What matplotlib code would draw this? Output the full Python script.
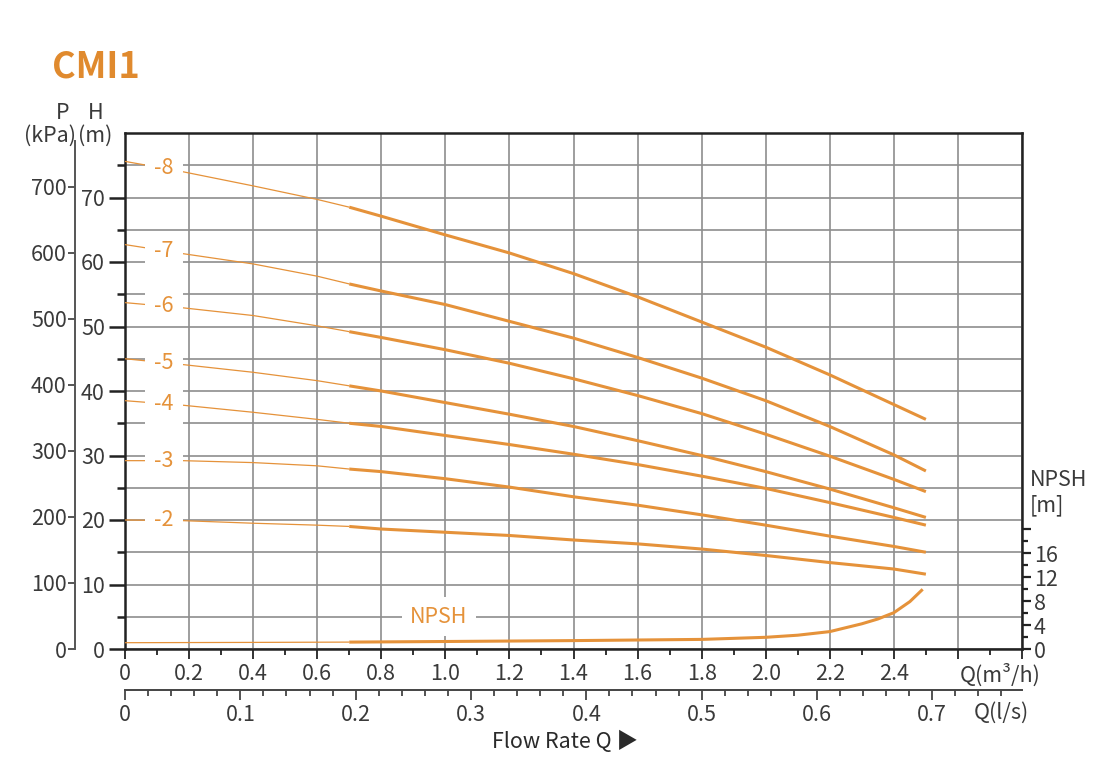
import numpy as np
import matplotlib.pyplot as plt
from matplotlib.ticker import MultipleLocator, FixedLocator, FuncFormatter

plt.rcParams['font.family'] = ['Noto Sans CJK SC', 'DejaVu Sans']

# flow rate (m3/h) where the head curves were read
q = [0, 0.18, 0.4, 0.6, 0.7, 0.8, 1.0, 1.2, 1.4, 1.6, 1.8, 2.0, 2.2, 2.4, 2.5]

# head H (m) for each stage count
h_2 = [20.0, 19.9, 19.5, 19.2, 19.0, 18.6, 18.1, 17.6, 16.9, 16.3, 15.5, 14.5, 13.4, 12.4, 11.6]
h_3 = [29.2, 29.2, 28.9, 28.4, 27.9, 27.5, 26.4, 25.1, 23.6, 22.3, 20.8, 19.2, 17.5, 15.9, 15.0]
h_4 = [38.5, 37.8, 36.7, 35.6, 35.0, 34.5, 33.1, 31.7, 30.2, 28.6, 26.8, 24.9, 22.7, 20.4, 19.2]
h_5 = [45.0, 44.1, 42.9, 41.6, 40.8, 40.0, 38.2, 36.4, 34.5, 32.3, 30.0, 27.5, 24.8, 21.9, 20.4]
h_6 = [53.7, 52.9, 51.7, 50.1, 49.2, 48.3, 46.4, 44.3, 41.9, 39.3, 36.5, 33.3, 29.9, 26.3, 24.4]
h_7 = [62.7, 61.3, 59.7, 57.8, 56.6, 55.5, 53.4, 50.8, 48.2, 45.2, 42.0, 38.5, 34.5, 30.1, 27.6]
h_8 = [75.6, 74.0, 71.8, 69.7, 68.5, 67.1, 64.2, 61.4, 58.2, 54.6, 50.7, 46.8, 42.5, 37.9, 35.6]
stage_labels = ['-2', '-3', '-4', '-5', '-6', '-7', '-8']

# NPSH curve
q_npsh = [0, 0.4, 0.7, 1.0, 1.4, 1.8, 2.0, 2.1, 2.2, 2.3, 2.35, 2.4, 2.45, 2.49]
npsh = [1.05, 1.1, 1.15, 1.25, 1.4, 1.6, 1.95, 2.3, 2.9, 4.2, 5.0, 6.05, 7.9, 9.95]

orange = '#E5923A'
title_col = '#E08A2E'
text_col = '#3a3a3a'
grid_col = '#8e8e8e'
q_split = 0.7
fs = 15.5

W, H = 1100, 767
fig = plt.figure(figsize=(W / 100, H / 100), dpi=100)
ax = fig.add_axes([125 / W, 1 - 649 / H, (1022 - 125) / W, (649 - 133) / H])


def fx(px):
    return px / W


def fy(py):
    return 1 - py / H


ax.set_xlim(0, 2.8)
ax.set_ylim(0, 80)
ax.set_axisbelow(True)

ax.xaxis.set_major_locator(MultipleLocator(0.2))
ax.xaxis.set_minor_locator(MultipleLocator(0.1))
ax.xaxis.set_major_formatter(FuncFormatter(
    lambda v, p: '' if v > 2.45 else ('0' if abs(v) < 1e-9 else f'{v:.1f}')))
ax.yaxis.set_major_locator(FixedLocator(np.arange(0, 71, 10)))
ax.yaxis.set_minor_locator(FixedLocator(np.arange(5, 80, 10)))
ax.yaxis.set_major_formatter(FuncFormatter(lambda v, p: f'{v:.0f}'))

ax.grid(which='major', axis='x', color=grid_col, lw=1.2)
ax.grid(which='both', axis='y', color=grid_col, lw=1.2)

for s in ax.spines.values():
    s.set_color('#222222')
    s.set_linewidth(1.8)

ax.tick_params(axis='y', which='major', length=11.5, width=1.8, color='#222222',
               labelsize=fs, labelcolor=text_col, pad=3)
ax.tick_params(axis='y', which='minor', length=6, width=1.8, color='#222222')
ax.tick_params(axis='x', which='major', length=7, width=1.3, color='#222222',
               labelsize=fs, labelcolor=text_col, pad=3)
ax.tick_params(axis='x', which='minor', length=4.5, width=1.3, color='#222222')

# head curves: thin below q_split, thick above
q_arr = np.array(q)
heads = [h_2, h_3, h_4, h_5, h_6, h_7, h_8]
for h, lab in zip(heads, stage_labels):
    h = np.array(h)
    lo = q_arr <= q_split
    hi = q_arr >= q_split
    ax.plot(q_arr[lo], h[lo], color=orange, lw=0.9, zorder=3, solid_capstyle='butt')
    ax.plot(q_arr[hi], h[hi], color=orange, lw=2.2, zorder=3, solid_capstyle='butt')
    y_lab = np.interp(0.122, q_arr, h)
    ax.text(0.122, y_lab, lab, color=orange, fontsize=fs, ha='center', va='center',
            zorder=5, bbox=dict(boxstyle='square,pad=0.42', fc='white', ec='none'))

ax.text(0.98, 5, 'NPSH', color=orange, fontsize=fs, ha='center', va='center',
        zorder=5, bbox=dict(boxstyle='square,pad=0.4', fc='white', ec='none'))

# P (kPa) axis on the far left
ax_p = ax.twinx()
ax_p.set_ylim(0, 80 * 9.77)
for k in ['right', 'top', 'bottom']:
    ax_p.spines[k].set_visible(False)
ax_p.spines['left'].set_visible(True)
ax_p.spines['left'].set_position(('outward', 36))
ax_p.spines['left'].set_color('#555555')
ax_p.spines['left'].set_linewidth(1.4)
ax_p.spines['left'].set_bounds(0, 770)
ax_p.yaxis.set_ticks_position('left')
ax_p.yaxis.set_major_locator(FixedLocator(np.arange(0, 701, 100)))
ax_p.tick_params(axis='y', length=5, width=1.4, color='#555555', labelsize=fs,
                 labelcolor=text_col, pad=1)

# NPSH axis on the right
ax_n = ax.twinx()
ax_n.set_ylim(0, 86)
for s in ax_n.spines.values():
    s.set_visible(False)
ax_n.yaxis.set_major_locator(FixedLocator([0, 4, 8, 12, 16, 20]))
ax_n.yaxis.set_minor_locator(FixedLocator([2, 6, 10, 14, 18]))
ax_n.yaxis.set_major_formatter(FuncFormatter(lambda v, p: '' if v > 17 else f'{v:.0f}'))
ax_n.tick_params(axis='y', which='major', length=6.5, width=1.6, color='#222222',
                 labelsize=fs, labelcolor=text_col, pad=2)
ax_n.tick_params(axis='y', which='minor', length=4.5, width=1.6, color='#222222')
qn = np.array(q_npsh)
nv = np.array(npsh)
ax_n.plot(qn[qn <= q_split], nv[qn <= q_split], color=orange, lw=0.9, solid_capstyle='butt')
ax_n.plot(qn[qn >= q_split], nv[qn >= q_split], color=orange, lw=2.2, solid_capstyle='butt')

# second flow axis in l/s
sec = ax.secondary_xaxis(-41 / 516, functions=(lambda x: x / 3.6, lambda x: x * 3.6))
sec.xaxis.set_major_locator(FixedLocator(np.arange(0, 0.71, 0.1)))
sec.xaxis.set_minor_locator(FixedLocator(np.arange(0, 0.77, 0.02)))
sec.xaxis.set_major_formatter(FuncFormatter(lambda v, p: '0' if abs(v) < 1e-9 else f'{v:.1f}'))
sec.spines['bottom'].set_color('#444444')
sec.spines['bottom'].set_linewidth(1.4)
sec.tick_params(axis='x', which='major', length=7, width=1.3, color='#444444',
                labelsize=fs, labelcolor=text_col, pad=3)
sec.tick_params(axis='x', which='minor', length=4.5, width=1.3, color='#444444')

# texts around the frame
fig.text(fx(52), fy(67), 'CMI1', fontsize=26, weight='bold', color=title_col,
         ha='left', va='center')
fig.text(fx(63), fy(113), 'P', fontsize=fs, color=text_col, ha='center', va='center')
fig.text(fx(50), fy(136), '(kPa)', fontsize=fs, color=text_col, ha='center', va='center')
fig.text(fx(96), fy(113), 'H', fontsize=fs, color=text_col, ha='center', va='center')
fig.text(fx(95), fy(136), '(m)', fontsize=fs, color=text_col, ha='center', va='center')
fig.text(fx(1030), fy(480), 'NPSH', fontsize=fs, color=text_col, ha='left', va='center')
fig.text(fx(1030), fy(505), '[m]', fontsize=fs, color=text_col, ha='left', va='center')
fig.text(fx(1000), fy(675), 'Q(m³/h)', fontsize=fs, color=text_col, ha='center', va='center')
fig.text(fx(1001), fy(713), 'Q(l/s)', fontsize=fs, color=text_col, ha='center', va='center')
fig.text(fx(492), fy(742), 'Flow Rate Q ▶', fontsize=fs, color='#2a2a2a',
         ha='left', va='center', weight='medium')

fig.savefig('out.png', dpi=100)
